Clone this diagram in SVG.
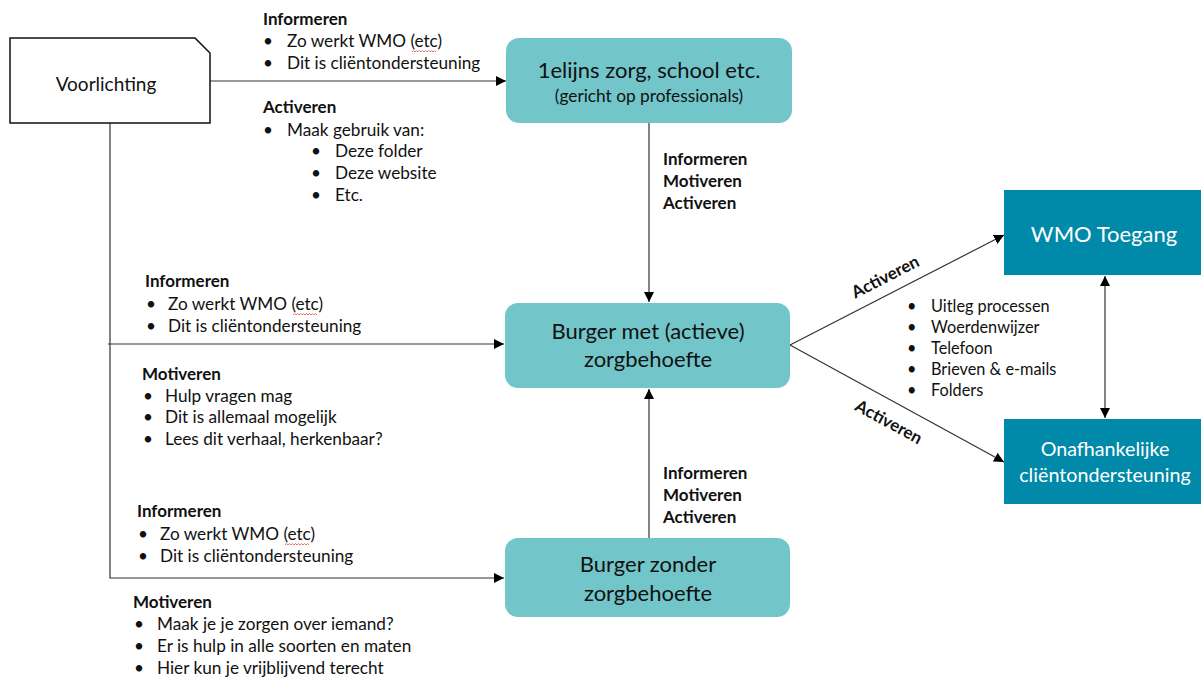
<svg xmlns="http://www.w3.org/2000/svg" width="1201" height="679" viewBox="0 0 1201 679">
<style>
text{font-family:Lato,"Open Sans","Liberation Sans",sans-serif;fill:#111}
.t{font-size:17.2px}
.r{font-size:16.3px}
.b{font-size:17px;font-weight:bold}
.n{font-size:22px;text-anchor:middle}
.s{font-size:17.3px;text-anchor:middle}
.w{fill:#fff}
.ln{stroke:#333;stroke-width:1.2;fill:none}
.light{fill:#72C6C9}
.dark{fill:#0089A8}
.sq{stroke:#e05050;stroke-width:0.8;fill:none}
</style>
<defs>
<marker id="ah" viewBox="0 0 10 10" refX="10" refY="5" markerWidth="10" markerHeight="10" markerUnits="userSpaceOnUse" orient="auto-start-reverse">
<path d="M0,0 L10,5 L0,10 z" fill="#000"/>
</marker>
<path id="wave" d="M0,0 l1.5,-1.5 l1.5,1.5 l1.5,-1.5 l1.5,1.5 l1.5,-1.5 l1.5,1.5 l1.5,-1.5 l1.5,1.5 l1.5,-1.5 l1.5,1.5 l1.5,-1.5 l1.5,1.5 l1.5,-1.5 l1.5,1.5 l1.5,-1.5 l1.5,1.5"/>
</defs>
<rect width="1201" height="679" fill="#fff"/>

<g id="connectors">
<line class="ln" x1="210" y1="81" x2="506" y2="81" marker-end="url(#ah)"/>
<polyline class="ln" points="110,123 110,578 504,578" marker-end="url(#ah)"/>
<line class="ln" x1="108" y1="344" x2="504" y2="344" marker-end="url(#ah)"/>
<line class="ln" x1="649" y1="123" x2="649" y2="302" marker-end="url(#ah)"/>
<line class="ln" x1="649" y1="538" x2="649" y2="389" marker-end="url(#ah)"/>
<line class="ln" x1="790" y1="345" x2="1004" y2="235" marker-end="url(#ah)"/>
<line class="ln" x1="790" y1="345" x2="1004" y2="462" marker-end="url(#ah)"/>
<line class="ln" x1="1105" y1="276" x2="1105" y2="418" marker-start="url(#ah)" marker-end="url(#ah)"/>
</g>

<g id="voorlichting">
<path d="M10,38 L195,38 L210,53 L210,123 L10,123 Z" fill="#fff" stroke="#111" stroke-width="1.5"/>
<text class="n" x="106" y="91" style="font-size:19px">Voorlichting</text>
</g>

<g id="eerstelijns">
<rect class="light" x="506" y="38" width="286" height="85" rx="13"/>
<text class="n" x="649" y="78">1elijns zorg, school etc.</text>
<text class="s" x="649" y="102">(gericht op professionals)</text>
</g>

<g id="burger-met">
<rect class="light" x="505" y="303" width="285" height="85" rx="13"/>
<text class="n" x="648" y="339">Burger met (actieve)</text>
<text class="n" x="648" y="367">zorgbehoefte</text>
</g>

<g id="burger-zonder">
<rect class="light" x="505" y="538" width="285" height="79" rx="13"/>
<text class="n" x="648" y="572">Burger zonder</text>
<text class="n" x="648" y="601">zorgbehoefte</text>
</g>

<g id="wmo-toegang">
<rect class="dark" x="1004" y="190" width="197" height="85"/>
<text class="n w" x="1104" y="242">WMO Toegang</text>
</g>

<g id="onafhankelijke">
<rect class="dark" x="1004" y="419" width="197" height="85"/>
<text class="n w" x="1105" y="456" style="font-size:19.7px">Onafhankelijke</text>
<text class="n w" x="1105" y="482" style="font-size:19.7px">cliëntondersteuning</text>
</g>

<g id="labels">
<text class="b" x="263" y="25">Informeren</text>
<text class="t" x="263" y="47">•</text><text class="t" x="287" y="47">Zo werkt WMO (etc)</text>
<text class="t" x="263" y="69">•</text><text class="t" x="287" y="69">Dit is cliëntondersteuning</text>
<text class="b" x="263" y="113">Activeren</text>
<text class="t" x="263" y="136">•</text><text class="t" x="287" y="136">Maak gebruik van:</text>
<text class="t" x="311" y="157">•</text><text class="t" x="335" y="157">Deze folder</text>
<text class="t" x="311" y="179">•</text><text class="t" x="335" y="179">Deze website</text>
<text class="t" x="311" y="201">•</text><text class="t" x="335" y="201">Etc.</text>

<text class="b" x="663" y="165">Informeren</text>
<text class="b" x="663" y="187">Motiveren</text>
<text class="b" x="663" y="209">Activeren</text>

<text class="b" x="145" y="287">Informeren</text>
<text class="t" x="146" y="310">•</text><text class="t" x="168" y="310">Zo werkt WMO (etc)</text>
<text class="t" x="146" y="332">•</text><text class="t" x="168" y="332">Dit is cliëntondersteuning</text>
<text class="b" x="142" y="380">Motiveren</text>
<text class="t" x="143" y="402">•</text><text class="t" x="165" y="402">Hulp vragen mag</text>
<text class="t" x="143" y="423">•</text><text class="t" x="165" y="423">Dit is allemaal mogelijk</text>
<text class="t" x="143" y="445">•</text><text class="t" x="165" y="445">Lees dit verhaal, herkenbaar?</text>

<text class="b" x="663" y="479">Informeren</text>
<text class="b" x="663" y="501">Motiveren</text>
<text class="b" x="663" y="523">Activeren</text>

<text class="b" x="137" y="517">Informeren</text>
<text class="t" x="138" y="540">•</text><text class="t" x="160" y="540">Zo werkt WMO (etc)</text>
<text class="t" x="138" y="562">•</text><text class="t" x="160" y="562">Dit is cliëntondersteuning</text>
<text class="b" x="133" y="608">Motiveren</text>
<text class="t" x="134" y="630">•</text><text class="t" x="157" y="630">Maak je je zorgen over iemand?</text>
<text class="t" x="134" y="652">•</text><text class="t" x="157" y="652">Er is hulp in alle soorten en maten</text>
<text class="t" x="134" y="674">•</text><text class="t" x="157" y="674">Hier kun je vrijblijvend terecht</text>

<text class="b" x="888" y="282" text-anchor="middle" transform="rotate(-27 888 282)">Activeren</text>
<text class="b" x="886" y="427" text-anchor="middle" transform="rotate(28.6 886 427)">Activeren</text>

<text class="r" x="907" y="312">•</text><text class="r" x="931" y="312">Uitleg processen</text>
<text class="r" x="907" y="333">•</text><text class="r" x="931" y="333">Woerdenwijzer</text>
<text class="r" x="907" y="354">•</text><text class="r" x="931" y="354">Telefoon</text>
<text class="r" x="907" y="375">•</text><text class="r" x="931" y="375">Brieven &amp; e-mails</text>
<text class="r" x="907" y="396">•</text><text class="r" x="931" y="396">Folders</text>
</g>

<g id="spellcheck">
<use href="#wave" class="sq" x="412" y="52"/>
<use href="#wave" class="sq" x="293" y="315"/>
<use href="#wave" class="sq" x="285" y="545"/>
</g>
</svg>
